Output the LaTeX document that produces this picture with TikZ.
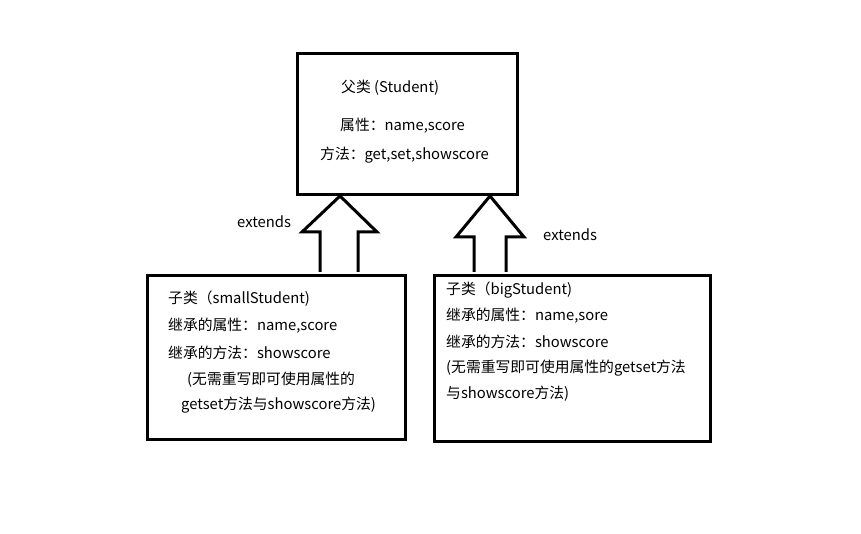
\documentclass[tikz,border=0pt]{standalone}
\usepackage{fontspec}
\setmainfont{Noto Sans CJK SC}
\begin{document}
\begin{tikzpicture}[x=1pt,y=-1pt,
  box/.style={draw,line width=3pt},
  txt/.style={anchor=west,inner sep=0pt,font=\fontsize{14.8}{17}\selectfont},
  arr/.style={draw,line width=3pt,fill=white,line join=miter}]
\useasboundingbox (0,0) rectangle (861,534);
\node[box,minimum width=220pt,minimum height=141pt,anchor=north west] (top) at (296,52) {};
\node[box,minimum width=258pt,minimum height=164pt,anchor=north west] (left) at (146,274) {};
\node[box,minimum width=276pt,minimum height=166pt,anchor=north west] (right) at (433,274) {};
\draw[arr] (320,272) -- (320,232) -- (302,232) -- (340,196) -- (377,232) -- (358,232) -- (358,272);
\draw[arr] (474,272) -- (474,237) -- (456,237) -- (490,196) -- (524,237) -- (506,237) -- (506,272);
\node[txt] (t1) at (341,88) {父类 (Student)};
\node[txt] (t2) at (340,126) {属性：name,score};
\node[txt] (t3) at (320,155) {方法：get,set,showscore};
\node[txt] (e1) at (237,222) {extends};
\node[txt] (e2) at (543,235) {extends};
\node[txt] (l1) at (168,299) {子类（smallStudent)};
\node[txt] (l2) at (168,326) {继承的属性：name,score};
\node[txt] (l3) at (168,353) {继承的方法：showscore};
\node[txt] (l4) at (187,380) {(无需重写即可使用属性的};
\node[txt] (l5) at (181,405) {getset方法与showscore方法)};
\node[txt] (r1) at (446,290) {子类（bigStudent)};
\node[txt] (r2) at (446,316) {继承的属性：name,sore};
\node[txt] (r3) at (446,342) {继承的方法：showscore};
\node[txt] (r4) at (446,368) {(无需重写即可使用属性的getset方法};
\node[txt] (r5) at (446,394) {与showscore方法)};
\end{tikzpicture}
\end{document}
